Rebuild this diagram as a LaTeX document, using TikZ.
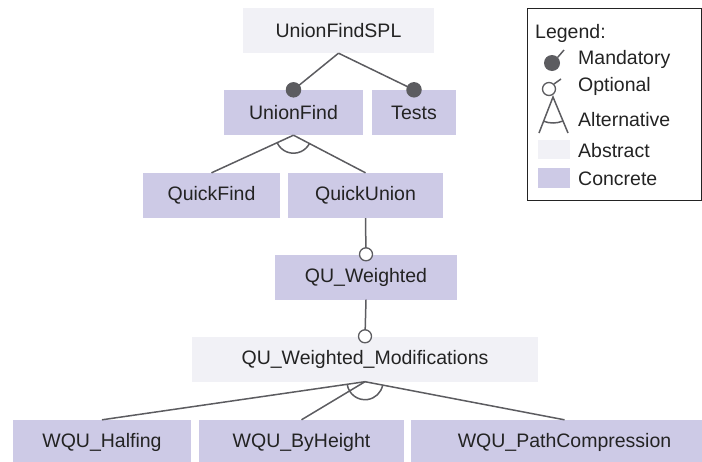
\documentclass[tikz,border=0pt]{standalone}
\usepackage{fontspec}
\setmainfont{Liberation Sans}
\usetikzlibrary{calc}
\definecolor{absfill}{RGB}{241,241,246}
\definecolor{confill}{RGB}{205,202,230}
\definecolor{edgec}{RGB}{92,92,96}
\definecolor{txtc}{RGB}{35,35,35}
\begin{document}
\begin{tikzpicture}[x=1pt,y=-1pt,
  feat/.style={rectangle,inner sep=0pt,minimum height=45pt,text=txtc,font=\fontsize{19.5pt}{22pt}\selectfont},
  absf/.style={feat,fill=absfill},
  conf/.style={feat,fill=confill},
  edge/.style={draw=edgec,line width=1.5pt},
  mand/.style={circle,fill=edgec,inner sep=0pt,minimum size=15.5pt},
  opt/.style={circle,fill=white,draw=edgec,line width=1.3pt,inner sep=0pt,minimum size=13pt},
  lt/.style={anchor=west,text=txtc,inner sep=0pt,font=\fontsize{19.5pt}{22pt}\selectfont}]
\useasboundingbox (0,0) rectangle (702,461);
\clip (0,0) rectangle (702,461);
% features
\node[absf,minimum width=191pt] (spl) at (338.5,30.5) {UnionFindSPL};
\node[conf,minimum width=139pt] (uf) at (293.5,112.5) {UnionFind};
\node[conf,minimum width=84pt] (tests) at (414,112.5) {Tests};
\node[conf,minimum width=137pt] (qf) at (211.5,195.5) {QuickFind};
\node[conf,minimum width=155pt] (qu) at (365.5,195.5) {QuickUnion};
\node[conf,minimum width=182pt] (quw) at (366,277) {QU\_Weighted};
\node[absf,minimum width=346pt] (quwm) at (365,359) {QU\_Weighted\_Modifications};
\node[conf,minimum width=178pt] (half) at (102,442.5) {WQU\_Halfing};
\node[conf,minimum width=205pt] (byh) at (301.5,442.5) {WQU\_ByHeight};
\node[conf,minimum width=307pt] (pc) at (564.5,442.5) {WQU\_PathCompression};
% mandatory
\draw[edge] (spl.south) -- (uf.north);
\draw[edge] (spl.south) -- (tests.north);
\node[mand] (m1) at (uf.north) {};
\node[mand] (m2) at (tests.north) {};
% alternative UnionFind
\draw[edge] (uf.south) -- (qf.north);
\draw[edge] (uf.south) -- (qu.north);
\draw[edge] let \p1=($(qf.north)-(uf.south)$), \p2=($(qu.north)-(uf.south)$),
  \n1={atan2(\y1,\x1)}, \n2={atan2(\y2,\x2)} in
  ($(uf.south)+(\n1:18pt)$) arc[start angle=\n1,end angle=\n2,radius=18pt];
% optional
\draw[edge] (qu.south) -- (quw.north);
\node[opt] (o1) at (quw.north) {};
\draw[edge] (quw.south) -- (quwm.north);
\node[opt] (o2) at (quwm.north) {};
% alternative modifications
\draw[edge] (quwm.south) -- (half.north);
\draw[edge] (quwm.south) -- (byh.north);
\draw[edge] (quwm.south) -- (pc.north);
\draw[edge] let \p1=($(half.north)-(quwm.south)$), \p2=($(pc.north)-(quwm.south)$),
  \n1={atan2(\y1,\x1)}, \n2={atan2(\y2,\x2)} in
  ($(quwm.south)+(\n1:18pt)$) arc[start angle=\n1,end angle=\n2,radius=18pt];
% legend
\node[draw=txtc,line width=1pt,minimum width=174pt,minimum height=192pt,inner sep=0pt] (legend) at (614,104) {};
\node[lt] (lgt) at (535,33) {Legend:};
\node[mand,minimum size=16pt] (lm) at (552,63) {};
\coordinate (lmend) at (564,50);
\draw[edge] (lm.45) -- (lmend);
\node[lt] (lmt) at (578,59) {Mandatory};
\node[opt] (lo) at (549,89) {};
\coordinate (loend) at (561,79);
\draw[edge] (lo.45) -- (loend);
\node[lt] (lot) at (578,86) {Optional};
\coordinate (la) at (553,97);
\coordinate (lal) at (539,133);
\coordinate (lar) at (568,133);
\draw[edge] (lal) -- (la) -- (lar);
\draw[edge] let \p1=($(lal)-(la)$), \p2=($(lar)-(la)$),
  \n1={atan2(\y1,\x1)}, \n2={atan2(\y2,\x2)} in
  ($(la)+(\n1:26pt)$) arc[start angle=\n1,end angle=\n2,radius=26pt];
\node[lt] (lat) at (578,120) {Alternative};
\node[fill=absfill,minimum width=32pt,minimum height=19pt,inner sep=0pt] (lab) at (554,149.5) {};
\node[lt] (labt) at (578,151) {Abstract};
\node[fill=confill,minimum width=32pt,minimum height=20pt,inner sep=0pt] (lcon) at (554,178) {};
\node[lt] (lcont) at (578,179) {Concrete};
\end{tikzpicture}
\end{document}
